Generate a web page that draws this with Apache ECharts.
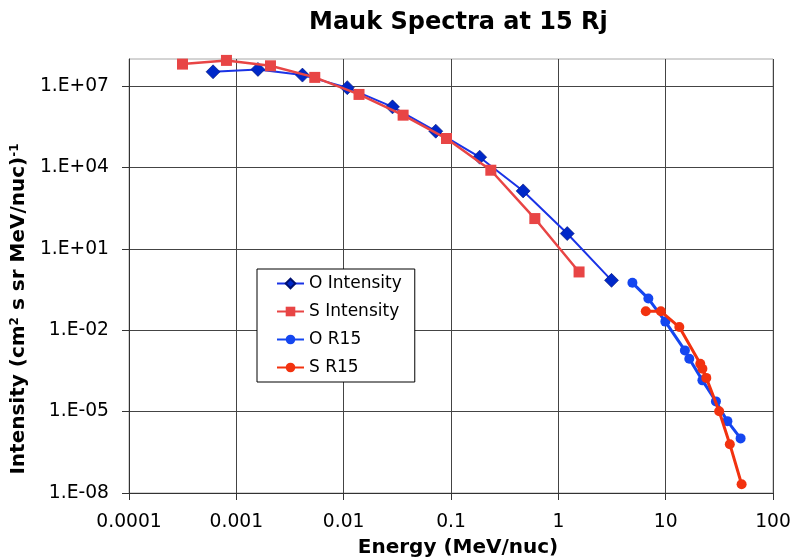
<!DOCTYPE html>
<html>
<head>
<meta charset="utf-8">
<script src="https://cdn.jsdelivr.net/npm/echarts@6/dist/echarts.min.js"></script>
<style>
html,body{margin:0;padding:0;background:#fff;}
#chart{width:794px;height:559px;}
</style>
</head>
<body>
<div id="chart"></div>
<script>
// Energy (MeV/nuc) and Intensity values
const oIntensityE = [6.07e-4, 1.59e-3, 4.13e-3, 1.08e-2, 2.85e-2, 7.21e-2, 0.185, 0.47, 1.21, 3.13];
const oIntensityI = [3.37e7, 4.13e7, 2.55e7, 8.8e6, 1.72e6, 2.18e5, 2.4e4, 1.37e3, 36.7, 0.69];

const sIntensityE = [3.15e-4, 8.09e-4, 2.08e-3, 5.38e-3, 1.39e-2, 3.58e-2, 9.08e-2, 0.235, 0.604, 1.56];
const sIntensityI = [6.48e7, 8.88e7, 5.61e7, 2.1e7, 4.94e6, 8.5e5, 1.17e5, 7.94e3, 131, 1.41];

const oR15E = [4.9, 6.9, 9.93, 15.1, 16.6, 22.0, 29.4, 37.6, 49.9];
const oR15I = [0.561, 0.147, 0.0208, 1.81e-3, 8.95e-4, 1.42e-4, 2.38e-5, 4.46e-6, 1.03e-6];

const sR15E = [6.53, 9.02, 13.4, 21.0, 22.0, 23.9, 31.5, 39.6, 51.0];
const sR15I = [0.0498, 0.0498, 0.0131, 5.86e-4, 3.83e-4, 1.75e-4, 1.03e-5, 6.3e-7, 2.11e-8];

const xTicks = [1e-4, 1e-3, 1e-2, 1e-1, 1, 10, 100];
const yTicks = [1e-8, 1e-5, 1e-2, 1e1, 1e4, 1e7];

const seriesNames = ['O Intensity', 'S Intensity', 'O R15', 'S R15'];
const titleText = 'Mauk Spectra at 15 Rj';
const xName = 'Energy (MeV/nuc)';

function zip(a, b) { return a.map((v, i) => [v, b[i]]); }
function fmtX(v) {
  const e = Math.round(Math.log10(v));
  if (e < 0) return '0.' + '0'.repeat(-e - 1) + '1';
  return '1' + '0'.repeat(e);
}
function fmtY(v) {
  const e = Math.round(Math.log10(v));
  const a = Math.abs(e);
  return '1.E' + (e >= 0 ? '+' : '-') + (a < 10 ? '0' : '') + a;
}

const FONT = 'DejaVu Sans';
const chart = echarts.init(document.getElementById('chart'), null, {renderer: 'canvas'});
chart.setOption({
  animation: false,
  backgroundColor: '#fff',
  title: {
    text: titleText,
    left: 304, top: 6,
    textStyle: {fontFamily: FONT, fontSize: 24, fontWeight: 'bold', color: '#000'}
  },
  grid: {
    left: 129, right: 21, top: 59, bottom: 66,
    outerBoundsMode: 'none', containLabel: false,
    show: true, borderColor: '#a8a8a8', borderWidth: 1, backgroundColor: 'transparent'
  },
  legend: {
    data: seriesNames,
    orient: 'vertical',
    left: 257, top: 269,
    padding: [6, 13, 6, 19],
    itemGap: 11,
    itemWidth: 27, itemHeight: 12,
    backgroundColor: '#fff',
    borderColor: '#000', borderWidth: 1, borderRadius: 0,
    textStyle: {fontFamily: FONT, fontSize: 17, color: '#000', lineHeight: 17}
  },
  xAxis: {
    type: 'log', logBase: 10, min: 1e-4, max: 100,
    name: xName, nameLocation: 'middle', nameGap: 45,
    nameTextStyle: {fontFamily: FONT, fontSize: 20, fontWeight: 'bold', color: '#000', padding: [0, 0, 0, 14]},
    axisLine: {show: true, onZero: false, lineStyle: {color: '#333', width: 1}},
    axisTick: {show: true, inside: false, length: 7, customValues: xTicks, lineStyle: {color: '#333'}},
    axisLabel: {customValues: xTicks, formatter: fmtX, margin: 20, fontFamily: FONT, fontSize: 18.7, color: '#000'},
    splitLine: {show: true, lineStyle: {color: '#444', width: 1}},
    minorTick: {show: false}, minorSplitLine: {show: false}
  },
  yAxis: {
    type: 'log', logBase: 10, min: 1e-8, max: 1e8,
    name: '{b|Intensity (cm}{s|2}{b| s sr MeV/nuc)}{s|-1}',
    nameLocation: 'middle', nameGap: 92, nameRotate: 90,
    nameTextStyle: {
      fontFamily: FONT, fontWeight: 'bold', color: '#000', padding: [0, 66, 0, 0],
      rich: {
        b: {fontFamily: FONT, fontSize: 20, fontWeight: 'bold', color: '#000'},
        s: {fontFamily: FONT, fontSize: 12, fontWeight: 'bold', color: '#000', verticalAlign: 'top', padding: [0, 0, 8, 0]}
      }
    },
    axisLine: {show: true, onZero: false, lineStyle: {color: '#333', width: 1}},
    axisTick: {show: true, inside: false, length: 7, customValues: yTicks, lineStyle: {color: '#333'}},
    axisLabel: {customValues: yTicks, formatter: fmtY, margin: 20, fontFamily: FONT, fontSize: 18.7, color: '#000'},
    splitLine: {show: true, lineStyle: {color: '#444', width: 1}},
    minorTick: {show: false}, minorSplitLine: {show: false}
  },
  series: [
    {
      name: seriesNames[0], type: 'line', data: zip(oIntensityE, oIntensityI),
      symbol: 'diamond', symbolSize: 14,
      lineStyle: {color: '#1a33e6', width: 2},
      itemStyle: {color: '#0028c8', borderColor: '#001070', borderWidth: 0.6},
      z: 2
    },
    {
      name: seriesNames[1], type: 'line', data: zip(sIntensityE, sIntensityI),
      symbol: 'rect', symbolSize: 11,
      lineStyle: {color: '#e84545', width: 2.5},
      itemStyle: {color: '#e84545'},
      z: 3
    },
    {
      name: seriesNames[2], type: 'line', data: zip(oR15E, oR15I),
      symbol: 'circle', symbolSize: 10,
      lineStyle: {color: '#1446f0', width: 3},
      itemStyle: {color: '#1446f0'},
      z: 2
    },
    {
      name: seriesNames[3], type: 'line', data: zip(sR15E, sR15I),
      symbol: 'circle', symbolSize: 10,
      lineStyle: {color: '#f2320f', width: 3},
      itemStyle: {color: '#f2320f'},
      z: 3
    }
  ]
});
</script>
</body>
</html>
